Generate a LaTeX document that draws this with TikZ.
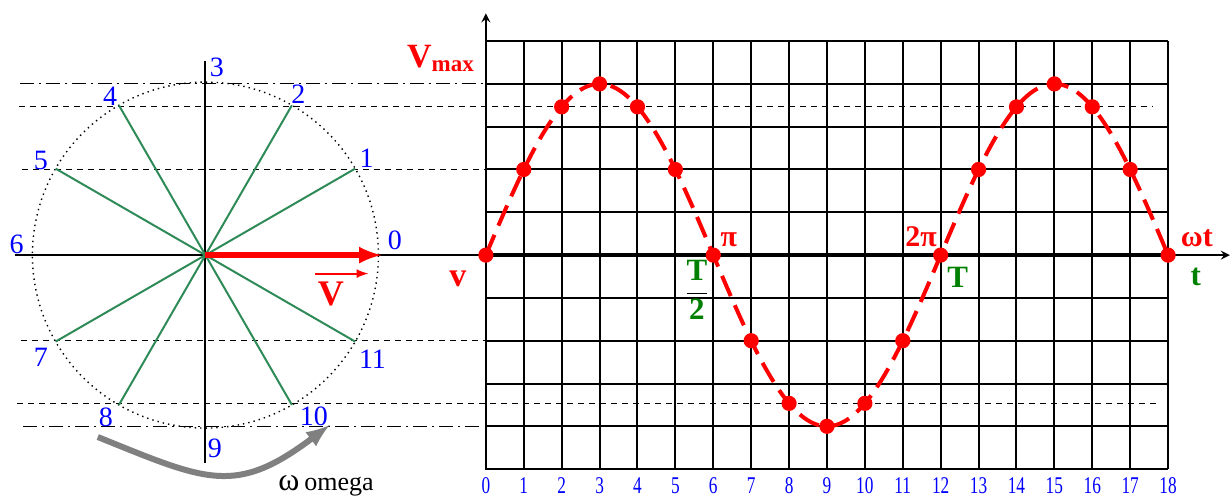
\documentclass[tikz,border=0pt]{standalone}
\usepackage{fontspec}
\setmainfont{Liberation Serif}
\usepackage{tikz}
\definecolor{spokegreen}{RGB}{46,139,87}
\definecolor{labgreen}{RGB}{0,128,0}

\begin{document}
\begin{tikzpicture}[x=18.95pt, y=21.4pt,
    proj/.style={line width=0.5pt, dash pattern=on 3pt off 2.5pt},
    projdot/.style={line width=0.5pt, dash pattern=on 7pt off 2.5pt on 1pt off 2.5pt},
    spoke/.style={spokegreen, line width=1pt},
    num/.style={blue, inner sep=0pt, font=\fontsize{14}{14}\selectfont},
    tick/.style={blue, inner sep=0pt, xscale=0.72, font=\fontsize{12}{12}\selectfont},
    redlab/.style={red, inner sep=0pt, font=\bfseries\fontsize{15}{15}\selectfont},
    greenlab/.style={labgreen, inner sep=0pt, font=\bfseries\fontsize{15.5}{15.5}\selectfont}]
    \useasboundingbox (-12.82,-5.68) rectangle (19.66,5.96);
    \coordinate (O) at (-7.4,0);

    % Draw the grid
    \draw[line width=1pt, xstep=1, ystep=1] (0,-5) grid (18,5);
    % Draw the projection lines
    \draw[projdot] (-12.3,4) -- (17.73,4);
    \draw[proj] (-12.32,3.464) -- (17.6,3.464);
    \draw[proj] (-12.24,2) -- (17.7,2);
    \draw[proj] (-12.27,-2) -- (17.84,-2);
    \draw[proj] (-12.37,-3.464) -- (17.76,-3.464);
    \draw[projdot] (-12.2,-4) -- (-0.08,-4);

    % Draw Axes
    \draw[-stealth, line width=1pt] (-12.43,0) -- (19.63,0);
    \draw[line width=2pt] (0,0) -- (18,0);
    \draw[-stealth, line width=1pt] (0,-5.02) -- (0,5.65);
    \draw[line width=1pt] (-7.4,4.53) -- (-7.4,-4.86);

    % Circle, spokes and phasor
    \draw[dotted, line width=0.7pt] (O) circle[radius=86.5pt];
    \foreach \k in {1,2,4,5,7,8,10,11} {
        \path (O) ++(30*\k:86.5pt) coordinate (p\k);
        \draw[spoke] (O) -- (p\k);
    }
    \path (O) ++(0:88pt) coordinate (p0);
    \draw[-latex, red, line width=2.8pt] (O) -- (p0);
    \foreach \k/\a/\rad in {0/4.5/95, 1/31/94, 2/60/93, 3/86.5/94, 4/121/92.5, 5/150/95,
        6/176.7/94.5, 7/211.8/96.8, 8/238.4/95, 9/272.8/97, 10/304/97, 11/328/98.5}
        \path (O) ++(\a:\rad pt) node[num] (n\k) {\k};

    % Sine curve and its points
    \draw[red, line width=2pt, dash pattern=on 11pt off 5pt] plot[domain=0:18, samples=145, smooth] (\x,{4*sin(30*\x)});
    \foreach \n in {0,...,18} \fill[red] (\n,{4*sin(30*\n)}) circle[radius=3.8pt];

    % Labels
    \node[redlab] (vmax) at (-1.20,4.59) {{\fontsize{17}{17}\selectfont V}\raisebox{-2pt}{\fontsize{11.5}{11.5}\selectfont max}};
    \node[redlab, font=\bfseries\fontsize{17}{17}\selectfont] (v) at (-0.74,-0.56) {v};
    \node[redlab] (pi) at (6.41,0.35) {π};
    \node[redlab] (twopi) at (11.48,0.42) {2π};
    \node[redlab] (wt) at (18.76,0.40) {ωt};
    \node[greenlab, text=black] (half) at (5.57,-0.82) {$\displaystyle\frac{\textcolor{labgreen}{\textbf{T}}}{\textcolor{labgreen}{\textbf{2}}}$};
    \node[greenlab] (T) at (12.45,-0.51) {T};
    \node[greenlab] (t) at (18.73,-0.51) {t};

    \node[redlab, font=\bfseries\fontsize{18}{18}\selectfont] (vec) at (-4.09,-0.91) {V};
    \draw[-latex, red, line width=1pt] ([xshift=-1pt,yshift=4pt]vec.north west) -- ([xshift=12pt,yshift=4pt]vec.north east);

    \coordinate (w1) at (-10.24,-4.25);
    \coordinate (w2) at (-4.12,-3.97);
    \draw[-latex, gray, line width=3pt] (w1) to[out=-22, in=217, looseness=1.3] (w2);
    \node[inner sep=0pt] (omega) at (-4.22,-5.40) {{\fontsize{16}{16}\selectfont ω}\ {\fontsize{13}{13}\selectfont omega}};

    % Add Tick Labels
    \foreach \n in {0,...,18} \node[tick] (x\n) at (\n,-5.38) {\n};
\end{tikzpicture}
\end{document}
